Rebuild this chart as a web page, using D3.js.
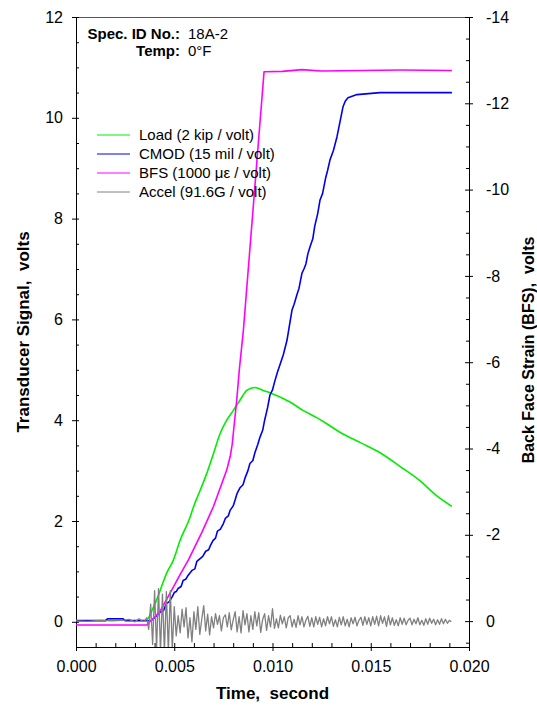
<!DOCTYPE html>
<html>
<head>
<meta charset="utf-8">
<script src="https://cdn.jsdelivr.net/npm/d3@7"></script>
<style>
html,body{margin:0;padding:0;background:#fff;}
svg{display:block;font-family:"Liberation Sans",Arial,sans-serif;}
</style>
</head>
<body>
<svg id="chart" width="537" height="708"></svg>
<script>
// ---------------- DATA (time in ms) ----------------
const loadTime = [0,1.5,3.5,3.65,3.92,4.17,4.4,4.63,4.94,5.29,5.8,5.97,6.31,6.65,6.99,7.33,7.67,8.0,8.35,8.69,9.11,9.53,9.96,10.89,11.57,12.25,12.76,13.43,14.5,15.5,16.5,17.5,18.3,19.13];
const loadValue = [0.03,0.03,0.03,0.06,0.27,0.5,0.75,0.98,1.21,1.61,2.07,2.27,2.6,2.94,3.33,3.73,4.0,4.19,4.4,4.59,4.65,4.59,4.53,4.36,4.19,4.05,3.93,3.76,3.55,3.35,3.08,2.8,2.52,2.29];

const cmodTime = [0,1.5,1.6,2.4,2.5,3.8,4.0,4.2,4.3,4.45,4.6,4.75,4.9,5.0,5.1,5.19,5.35,5.45,5.6,5.7,5.9,6.05,6.15,6.3,6.45,6.6,6.75,6.85,6.97,7.1,7.2,7.35,7.5,7.6,7.75,7.84,8.0,8.1,8.2,8.35,8.5,8.6,8.75,8.85,9.0,9.1,9.25,9.36,9.5,9.6,9.75,9.87,10.0,10.1,10.25,10.38,10.55,10.74,10.85,10.99,11.1,11.25,11.35,11.5,11.6,11.7,11.8,11.91,12.05,12.15,12.3,12.42,12.55,12.7,12.8,12.93,13.1,13.2,13.28,13.45,13.59,13.7,13.84,14.3,15.47,19.13];
const cmodValue = [0.02,0.02,0.06,0.06,0.02,0.02,0.08,0.15,0.2,0.22,0.36,0.4,0.5,0.58,0.6,0.66,0.7,0.82,0.85,0.92,1.02,1.05,1.2,1.25,1.3,1.4,1.43,1.52,1.61,1.66,1.8,1.84,1.95,2.05,2.1,2.21,2.3,2.42,2.55,2.66,2.72,2.85,3.0,3.14,3.2,3.35,3.52,3.66,3.8,4.0,4.25,4.5,4.6,4.75,4.95,5.1,5.3,5.59,5.85,6.18,6.3,6.5,6.62,6.92,7.0,7.1,7.3,7.44,7.6,7.85,8.1,8.37,8.5,8.8,8.95,9.17,9.35,9.5,9.62,9.95,10.22,10.33,10.4,10.46,10.5,10.5];

const bfsTime = [0,3.6,3.77,4.27,4.87,5.29,5.72,6.4,6.99,7.67,7.85,7.95,8.05,8.18,8.31,8.52,9.57,10.5,11.5,12.5,14.5,16.5,19.13];
const bfsValue = [0.09,0.09,0.01,-0.22,-0.72,-1.07,-1.42,-2.05,-2.65,-3.5,-3.82,-4.1,-4.55,-5.12,-5.82,-6.75,-12.73,-12.74,-12.78,-12.75,-12.76,-12.77,-12.76];

const accelBaseTime = [0,0.6,1.2,1.8,2.4,2.7,3.0,3.2,3.4];
const accelBaseValue = [0.02,0.01,0.03,0.02,0.03,0.05,0.0,0.06,0.01];
const accelStart = 3.5, accelStep = 0.1;
const accelValue = [
0.02,0.08,-0.15,0.35,-0.45,0.62,-0.55,0.66,-0.6,0.55,-0.6,0.6,-0.6,0.62,-0.55,
0.3,-0.28,0.12,-0.22,0.25,-0.1,0.28,-0.32,0.08,-0.4,0.2,-0.15,0.3,-0.25,0.05,0.32,-0.18,0.15,-0.26,0.1,
-0.12,0.16,-0.05,0.12,-0.18,0.08,0.14,-0.1,0.18,-0.16,0.04,0.2,-0.2,0.1,-0.22,0.22,-0.06,0.16,-0.2,0.12,
-0.15,0.2,-0.08,0.18,-0.21,0.05,0.16,-0.17,0.12,-0.1,0.26,-0.13,0.06,-0.12,0.13,-0.04,0.1,-0.12,0.08,0.12,
-0.1,0.05,-0.11,0.12,-0.06,0.1,-0.1,0.03,0.11,-0.09,0.08,-0.1,0.1,-0.05,0.09,-0.1,0.06,-0.08,0.1,-0.04,
0.1,-0.09,0.04,-0.1,0.09,-0.06,0.1,-0.08,0.05,-0.1,0.08,-0.04,0.09,-0.08,0.03,0.09,-0.07,0.1,-0.05,0.08,
-0.08,0.1,-0.05,0.11,-0.08,0.12,-0.03,0.1,-0.09,0.12,-0.06,0.08,-0.07,0.04,-0.08,0.08,-0.05,0.07,-0.06,0.03,
0.07,-0.06,0.05,-0.04,0.08,-0.06,0.03,-0.07,0.06,-0.05,0.07,-0.03,0.05,-0.06,0.04,-0.05,0.06,-0.04,0.05,-0.03,
0.03,0.0];

const xTicks = [0,5,10,15,20];
const xTickLabels = ["0.000","0.005","0.010","0.015","0.020"];
const yLeftTicks = [0,2,4,6,8,10,12];
const yLeftTickLabels = ["0","2","4","6","8","10","12"];
const yRightTicks = [0,-2,-4,-6,-8,-10,-12,-14];
const yRightTickLabels = ["0","-2","-4","-6","-8","-10","-12","-14"];

const seriesNames = ["Load (2 kip / volt)","CMOD (15 mil / volt)","BFS (1000 \u03bc\u03b5 / volt)","Accel (91.6G / volt)"];
const seriesColors = ["#00ee00","#0000ee","#ff00ff","#808080"];

// ---------------- LAYOUT ----------------
const L = 76, R = 469, T = 17, B = 647;
const svg = d3.select("#chart");
const x = d3.scaleLinear().domain([0,20]).range([L,R]);
const yL = d3.scaleLinear().domain([-0.5,12]).range([B,T]);
const yR = d3.scaleLinear().domain([0.6,-14]).range([B,T]);

svg.append("defs").append("clipPath").attr("id","plotclip")
  .append("rect").attr("x",L).attr("y",T).attr("width",R-L).attr("height",B-T);

// top border
svg.append("line").attr("x1",L).attr("x2",R).attr("y1",T+0.5).attr("y2",T+0.5)
  .attr("stroke","#555").attr("stroke-width",1);

function styleAxis(g){
  g.select(".domain").remove();
  g.selectAll("line").attr("stroke","#000");
  g.selectAll("text").attr("font-size","16px").attr("fill","#000")
    .attr("font-family","'Liberation Sans',Arial,sans-serif");
}

// Bottom axis
const xMinor = d3.range(0,21).filter(v=>v%5!==0);
svg.append("g").attr("transform",`translate(0,${B})`)
  .call(d3.axisBottom(x).tickValues(xTicks).tickSize(4).tickPadding(10)
    .tickFormat((d,i)=>xTickLabels[i])).call(styleAxis);
svg.append("g").attr("transform",`translate(0,${B})`)
  .call(d3.axisBottom(x).tickValues(xTicks).tickSize(-4).tickFormat("")).call(styleAxis);
svg.append("g").attr("transform",`translate(0,${B})`)
  .call(d3.axisBottom(x).tickValues(xMinor).tickSize(-4).tickFormat("")).call(styleAxis);

// Left axis
const yLMinor = d3.range(-0.5,12.01,0.5).filter(v=>Math.abs(v%2)>1e-6);
svg.append("g").attr("transform",`translate(${L},0)`)
  .call(d3.axisLeft(yL).tickValues(yLeftTicks).tickSize(4).tickPadding(9)
    .tickFormat((d,i)=>yLeftTickLabels[i])).call(styleAxis);
svg.append("g").attr("transform",`translate(${L},0)`)
  .call(d3.axisLeft(yL).tickValues(yLeftTicks).tickSize(-3).tickFormat("")).call(styleAxis);
svg.append("g").attr("transform",`translate(${L},0)`)
  .call(d3.axisLeft(yL).tickValues(yLMinor).tickSize(-3).tickFormat("")).call(styleAxis);

// Right axis
const yRMinor = d3.range(0.5,-14.01,-0.5).filter(v=>Math.abs(v%2)>1e-6);
svg.append("g").attr("transform",`translate(${R},0)`)
  .call(d3.axisRight(yR).tickValues(yRightTicks).tickSize(4).tickPadding(13)
    .tickFormat((d,i)=>yRightTickLabels[i])).call(styleAxis);
svg.append("g").attr("transform",`translate(${R},0)`)
  .call(d3.axisRight(yR).tickValues(yRightTicks).tickSize(-4).tickFormat("")).call(styleAxis);
svg.append("g").attr("transform",`translate(${R},0)`)
  .call(d3.axisRight(yR).tickValues(yRMinor).tickSize(-3).tickFormat("")).call(styleAxis);

// axis lines
svg.append("line").attr("x1",L+0.5).attr("x2",L+0.5).attr("y1",T).attr("y2",B+3).attr("stroke","#000");
svg.append("line").attr("x1",R+0.5).attr("x2",R+0.5).attr("y1",T).attr("y2",B+4).attr("stroke","#000");
svg.append("line").attr("x1",L).attr("x2",R+1).attr("y1",B+0.5).attr("y2",B+0.5).attr("stroke","#000");

// ---------------- SERIES ----------------
const plot = svg.append("g").attr("clip-path","url(#plotclip)");
function drawLine(ts, vs, yScale, color, w, curve){
  const pts = ts.map((t,i)=>[t, vs[i]]);
  plot.append("path").datum(pts)
    .attr("fill","none").attr("stroke",color).attr("stroke-width",w)
    .attr("stroke-linejoin","round")
    .attr("d", d3.line().curve(curve || d3.curveLinear).x(d=>x(d[0])).y(d=>yScale(d[1])));
}
drawLine(loadTime, loadValue, yL, seriesColors[0], 1.6, d3.curveMonotoneX);
drawLine(cmodTime, cmodValue, yL, seriesColors[1], 1.6);
drawLine(bfsTime, bfsValue, yR, seriesColors[2], 1.6);
const accelTime = accelBaseTime.concat(accelValue.map((v,i)=>accelStart + i*accelStep));
const accelAll = accelBaseValue.concat(accelValue);
drawLine(accelTime, accelAll, yL, seriesColors[3], 1.3);

// ---------------- LEGEND ----------------
const legY = [135,154,173,192];
seriesNames.forEach((name,i)=>{
  svg.append("line").attr("x1",97).attr("x2",130).attr("y1",legY[i]).attr("y2",legY[i])
    .attr("stroke",seriesColors[i]).attr("stroke-width",1);
  svg.append("text").attr("x",139).attr("y",legY[i]).attr("dy","0.35em")
    .attr("font-size","15px").attr("fill","#000").text(name);
});

// ---------------- ANNOTATION ----------------
svg.append("text").attr("x",180).attr("y",39).attr("text-anchor","end")
  .attr("font-size","15px").attr("font-weight","bold").text("Spec. ID No.:");
svg.append("text").attr("x",188).attr("y",39).attr("font-size","15px").text("18A-2");
svg.append("text").attr("x",180).attr("y",56).attr("text-anchor","end")
  .attr("font-size","15px").attr("font-weight","bold").text("Temp:");
svg.append("text").attr("x",188).attr("y",56).attr("font-size","15px").text("0\u00b0F");

// ---------------- TITLES ----------------
svg.append("text").attr("x",(L+R)/2).attr("y",699).attr("text-anchor","middle")
  .attr("font-size","17px").attr("font-weight","bold")
  .style("white-space","pre").text("Time,  second");
svg.append("text").attr("transform",`translate(23,${(T+B)/2}) rotate(-90)`)
  .attr("text-anchor","middle").attr("dy","0.35em")
  .attr("font-size","17px").attr("font-weight","bold").style("white-space","pre")
  .text("Transducer Signal,  volts");
svg.append("text").attr("transform",`translate(528,350) rotate(-90)`)
  .attr("text-anchor","middle").attr("dy","0.35em")
  .attr("font-size","16px").attr("font-weight","bold").style("white-space","pre")
  .text("Back Face Strain (BFS),  volts");
</script>
</body>
</html>
